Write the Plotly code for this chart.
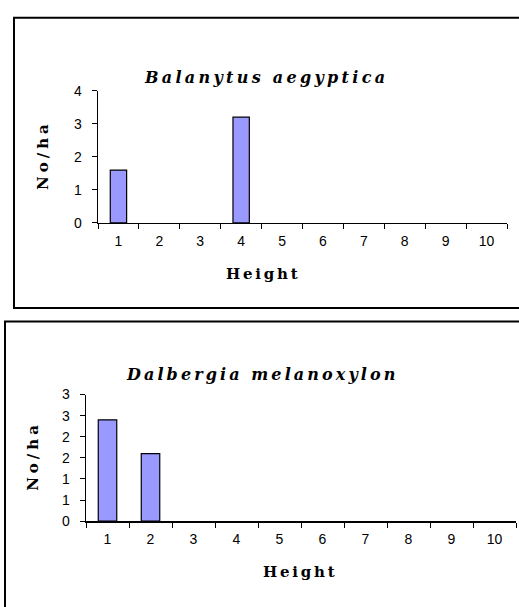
import plotly.graph_objects as go

# ---- data ----
heights = ["1", "2", "3", "4", "5", "6", "7", "8", "9", "10"]
balanytus = [1.6, 0, 0, 3.2, 0, 0, 0, 0, 0, 0]
dalbergia = [2.4, 1.6, 0, 0, 0, 0, 0, 0, 0, 0]
title_top = "Balanytus aegyptica"
title_bottom = "Dalbergia melanoxylon"
y_title = "No/ha"
x_title = "Height"
top_yticks = [0, 1, 2, 3, 4]
top_yticktext = ["0", "1", "2", "3", "4"]
bot_yticks = [0, 0.5, 1, 1.5, 2, 2.5, 3]
bot_yticktext = ["0", "1", "1", "2", "2", "3", "3"]

W, H = 519, 607


def px(x):
    return x / W


def py(y):
    return 1 - y / H


BAR_FILL = "#9999FF"
tick_font = dict(family="Liberation Sans, Arial, sans-serif", size=14, color="black")
serif = "DejaVu Serif, serif"


def outline(vals):
    return [1.2 if v > 0 else 0 for v in vals]


fig = go.Figure()
fig.add_trace(go.Bar(x=heights, y=balanytus, width=0.4,
                     marker=dict(color=BAR_FILL, line=dict(color="black", width=outline(balanytus))),
                     xaxis="x", yaxis="y", showlegend=False, hoverinfo="skip"))
fig.add_trace(go.Bar(x=heights, y=dalbergia, width=0.43,
                     marker=dict(color=BAR_FILL, line=dict(color="black", width=outline(dalbergia))),
                     xaxis="x2", yaxis="y2", showlegend=False, hoverinfo="skip"))

common_x = dict(type="category", showline=True, linecolor="black", linewidth=1.5,
                ticks="outside", ticklen=5, tickwidth=1, tickcolor="black",
                tickson="boundaries", showgrid=False, zeroline=False,
                tickfont=tick_font, range=[-0.5, 9.5], fixedrange=True,
                ticklabelstandoff=5)
common_y = dict(showline=True, linecolor="black", linewidth=1.5,
                ticks="outside", ticklen=5, tickwidth=1, tickcolor="black",
                showgrid=False, zeroline=False, tickfont=tick_font, fixedrange=True,
                ticklabelstandoff=7)

fig.update_layout(
    width=W, height=H,
    margin=dict(l=0, r=0, t=0, b=0),
    paper_bgcolor="white", plot_bgcolor="white",
    bargap=0,
    xaxis=dict(common_x, domain=[px(98), px(507)], anchor="y"),
    yaxis=dict(common_y, domain=[py(220.7), py(85)], range=[0, 4],
               tickvals=top_yticks, ticktext=top_yticktext, anchor="x"),
    xaxis2=dict(common_x, domain=[px(86), px(516)], anchor="y2"),
    yaxis2=dict(common_y, domain=[py(527), py(397)], range=[0, 3],
                tickvals=bot_yticks, ticktext=bot_yticktext, anchor="x2"),
)


def spaced(text, sp):
    return f"<span style='letter-spacing:{sp}px'>{text}</span>"


ann = []
# top panel
ann.append(dict(x=px(266), y=py(71.5), text=spaced(title_top, 3.3),
                font=dict(family=serif, size=16, weight="bold", style="italic", color="black")))
ann.append(dict(x=px(43), y=py(151), text=spaced(y_title, 4), textangle=-90,
                font=dict(family=serif, size=15, weight="bold", color="black")))
ann.append(dict(x=px(263), y=py(273), text=spaced(x_title, 2.8),
                font=dict(family=serif, size=15, weight="bold", color="black")))
# bottom panel
ann.append(dict(x=px(262), y=py(376), text=spaced(title_bottom, 3.1),
                font=dict(family=serif, size=16, weight="bold", style="italic", color="black")))
ann.append(dict(x=px(33), y=py(460), text=spaced(y_title, 4), textangle=-90,
                font=dict(family=serif, size=15, weight="bold", color="black")))
ann.append(dict(x=px(300), y=py(579), text=spaced(x_title, 2.8),
                font=dict(family=serif, size=15, weight="bold", color="black")))
for a in ann:
    a.update(xref="paper", yref="paper", showarrow=False, xanchor="center", yanchor="middle")
fig.update_layout(annotations=ann)

fig.update_layout(shapes=[
    dict(type="rect", xref="paper", yref="paper", x0=px(14), x1=px(600), y0=py(10), y1=py(308),
         line=dict(color="black", width=2), fillcolor="rgba(0,0,0,0)", layer="above"),
    dict(type="rect", xref="paper", yref="paper", x0=px(5), x1=px(600), y0=py(322), y1=py(700),
         line=dict(color="black", width=2), fillcolor="rgba(0,0,0,0)", layer="above"),
])

fig.write_html("out.html", config={"displayModeBar": False, "staticPlot": True},
               post_script="document.body.style.margin='0';document.body.style.padding='0';")
